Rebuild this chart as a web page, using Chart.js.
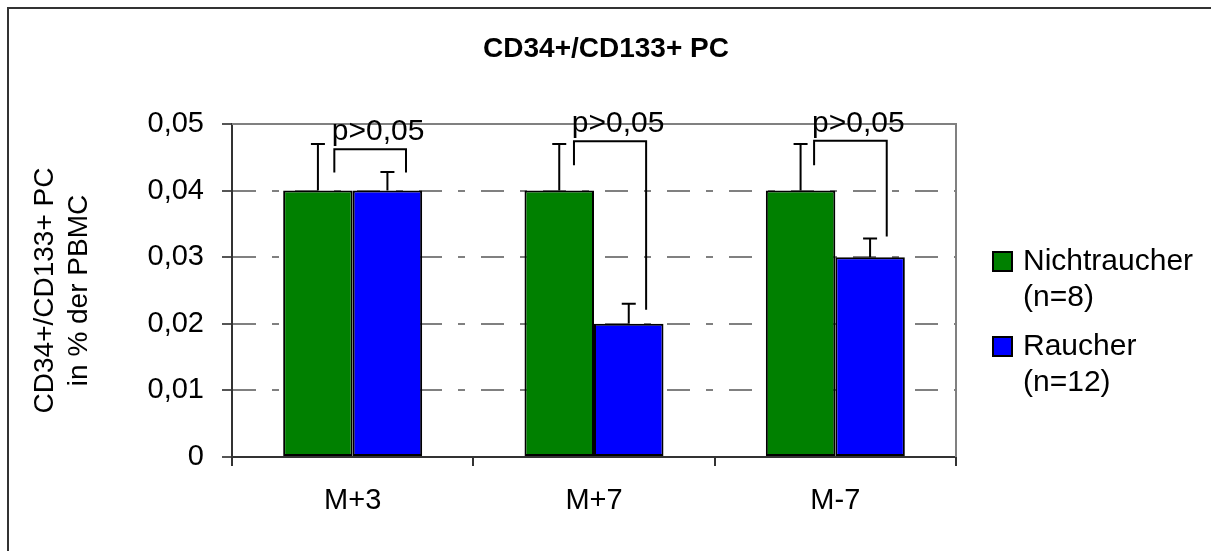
<!DOCTYPE html>
<html>
<head>
<meta charset="utf-8">
<script src="https://cdn.jsdelivr.net/npm/chart.js@4/dist/chart.umd.min.js"></script>
<style>
  html, body { margin: 0; padding: 0; background: #ffffff; }
  #wrap { width: 1211px; height: 551px; position: relative; }
</style>
</head>
<body>
<div id="wrap"><canvas id="c" width="1211" height="551"></canvas></div>
<script>
// ---- data ----
const categories = ["M+3", "M+7", "M-7"];
const nichtraucher = [0.04, 0.04, 0.04];
const nichtraucherErr = [0.007, 0.007, 0.007];
const raucher = [0.04, 0.02, 0.03];
const raucherErr = [0.0028, 0.003, 0.0028];
const seriesLabels = [["Nichtraucher", "(n=8)"], ["Raucher", "(n=12)"]];
const yTicks = [0, 0.01, 0.02, 0.03, 0.04, 0.05];
const chartTitle = "CD34+/CD133+ PC";
const yTitle = ["CD34+/CD133+ PC", "in % der PBMC"];
// significance brackets: category-unit x offsets and value-unit heights
const bracketText = ["p>0,05", "p>0,05", "p>0,05"];
const bracketLeftX = [-0.076, -0.083, -0.088];
const bracketRightX = [0.221, 0.216, 0.213];
const bracketTop = [0.0462, 0.0474, 0.0475];
const bracketLeftBottom = [0.0427, 0.0438, 0.0438];
const bracketRightBottom = [0.0427, 0.0221, 0.0331];

const FONT = "'Liberation Sans', Arial, sans-serif";
const errors = [nichtraucherErr, raucherErr];

const overlay = {
  id: 'overlay',
  beforeDraw(chart) {
    const ctx = chart.ctx;
    ctx.save();
    ctx.fillStyle = '#fff';
    ctx.fillRect(0, 0, chart.width, chart.height);
    ctx.strokeStyle = '#333';
    ctx.lineWidth = 2;
    ctx.strokeRect(8, 8, chart.width + 20, chart.height + 20);
    ctx.restore();
  },
  afterDatasetsDraw(chart) {
    const ctx = chart.ctx;
    const xs = chart.scales.x, ys = chart.scales.y;
    const area = chart.chartArea;
    ctx.save();
    ctx.strokeStyle = '#808080';
    ctx.lineWidth = 2;
    ctx.beginPath();
    ctx.moveTo(area.left, area.top);
    ctx.lineTo(area.right, area.top);
    ctx.lineTo(area.right, area.bottom);
    ctx.stroke();
    ctx.strokeStyle = '#000';
    ctx.lineWidth = 2;
    chart.data.datasets.forEach((ds, di) => {
      const meta = chart.getDatasetMeta(di);
      meta.data.forEach((bar, i) => {
        const yTop = ys.getPixelForValue(ds.data[i] + errors[di][i]);
        const yBase = ys.getPixelForValue(ds.data[i]);
        ctx.beginPath();
        ctx.moveTo(bar.x, yBase);
        ctx.lineTo(bar.x, yTop);
        ctx.moveTo(bar.x - 7, yTop);
        ctx.lineTo(bar.x + 7, yTop);
        ctx.stroke();
      });
    });
    const catW = (xs.right - xs.left) / categories.length;
    ctx.lineWidth = 2;
    ctx.font = '30px ' + FONT;
    ctx.fillStyle = '#000';
    ctx.textAlign = 'center';
    ctx.textBaseline = 'alphabetic';
    categories.forEach((c, i) => {
      const cx = xs.getPixelForValue(i);
      const xl = cx + bracketLeftX[i] * catW;
      const xr = cx + bracketRightX[i] * catW;
      const yt = ys.getPixelForValue(bracketTop[i]);
      ctx.beginPath();
      ctx.moveTo(xl, ys.getPixelForValue(bracketLeftBottom[i]));
      ctx.lineTo(xl, yt);
      ctx.lineTo(xr, yt);
      ctx.lineTo(xr, ys.getPixelForValue(bracketRightBottom[i]));
      ctx.stroke();
      ctx.fillText(bracketText[i], (xl + xr) / 2 + 8, yt - 9);
    });
    ctx.restore();
  },
  afterDraw(chart) {
    const ctx = chart.ctx;
    const area = chart.chartArea;
    ctx.save();
    ctx.fillStyle = '#000';
    ctx.font = 'bold 28px ' + FONT;
    ctx.textAlign = 'center';
    ctx.textBaseline = 'alphabetic';
    ctx.fillText(chartTitle, 606, 57);
    ctx.textBaseline = 'middle';
    ctx.font = '28px ' + FONT;
    ctx.save();
    ctx.translate(45, (area.top + area.bottom) / 2);
    ctx.rotate(-Math.PI / 2);
    yTitle.forEach((t, k) => ctx.fillText(t, 0, k * 34));
    ctx.restore();
    ctx.font = '30px ' + FONT;
    ctx.textAlign = 'left';
    chart.data.datasets.forEach((ds, di) => {
      const y0 = 262 + di * 85;
      ctx.fillStyle = ds.backgroundColor;
      ctx.fillRect(993, y0 - 10, 19, 19);
      ctx.strokeStyle = '#000';
      ctx.lineWidth = 2;
      ctx.strokeRect(993, y0 - 10, 19, 19);
      ctx.fillStyle = '#000';
      ds.label.forEach((line, k) => ctx.fillText(line, 1023, y0 + k * 36));
    });
    ctx.restore();
  }
};

new Chart(document.getElementById('c'), {
  type: 'bar',
  data: {
    labels: categories,
    datasets: [
      { label: seriesLabels[0], data: nichtraucher, backgroundColor: '#008000', borderColor: '#000', borderWidth: 2, borderSkipped: false },
      { label: seriesLabels[1], data: raucher, backgroundColor: '#0000FF', borderColor: '#000', borderWidth: 2, borderSkipped: false }
    ]
  },
  options: {
    responsive: false,
    animation: false,
    devicePixelRatio: 1,
    categoryPercentage: 0.576,
    barPercentage: 1,
    layout: { padding: { left: 0, top: 124, right: 255, bottom: 0 } },
    plugins: { legend: { display: false }, title: { display: false }, tooltip: { enabled: false } },
    scales: {
      x: {
        afterFit(s) { s.height = 94; },
        grid: { display: true, drawOnChartArea: false, drawTicks: true, tickLength: 9, color: '#333', lineWidth: 2, offset: true },
        border: { display: true, color: '#333', width: 2 },
        ticks: { color: '#000', font: { family: FONT, size: 29 }, padding: 18 }
      },
      y: {
        min: 0, max: 0.05,
        afterFit(s) { s.width = 232; },
        afterBuildTicks(s) { s.ticks = yTicks.map(v => ({ value: v })); },
        grid: {
          color: (c) => (c.tick && (c.tick.value === 0 || c.tick.value === 0.05)) ? 'rgba(0,0,0,0)' : '#808080',
          lineWidth: 2, drawTicks: true, tickLength: 10, tickColor: '#555', tickWidth: 2, tickBorderDash: []
        },
        border: { display: true, color: '#333', width: 2, dash: [23, 16, 7, 16] },
        ticks: {
          color: '#000', font: { family: FONT, size: 29 }, padding: 18,
          callback: (v) => String(v).replace('.', ',')
        }
      }
    }
  },
  plugins: [overlay]
});
</script>
</body>
</html>
